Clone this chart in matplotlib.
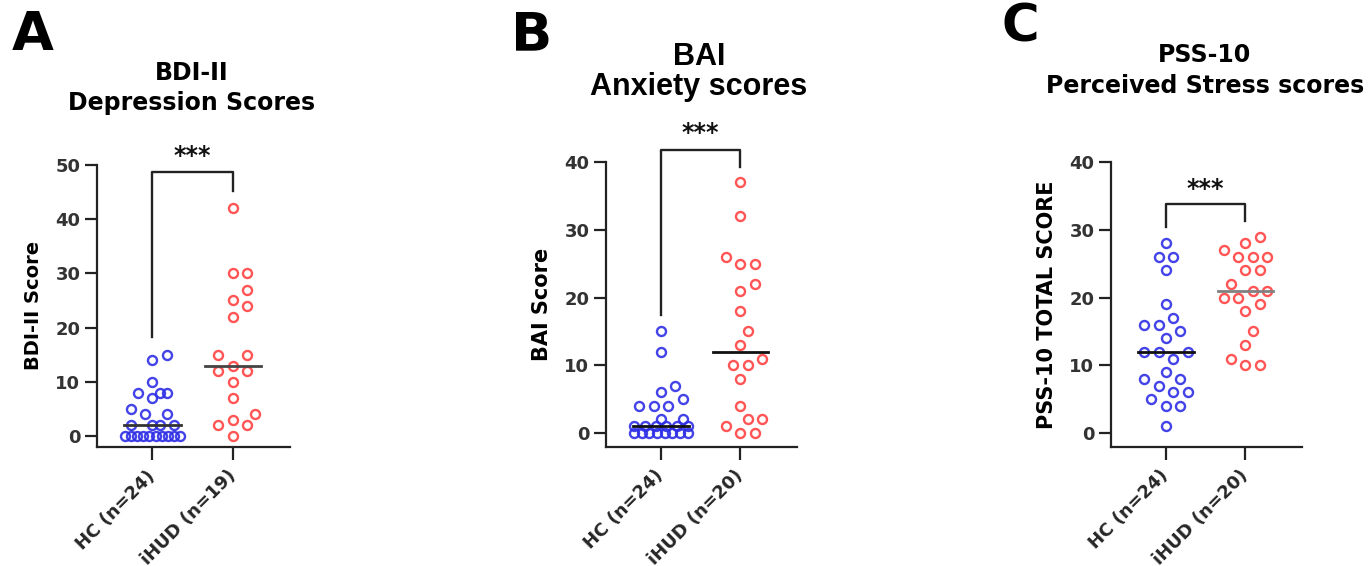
import numpy as np
import matplotlib
matplotlib.use("Agg")
import matplotlib.pyplot as plt

plt.rcParams['font.family'] = ['DejaVu Sans']
plt.rcParams['font.weight'] = 'bold'

# ---------------- data ----------------
groups_A = ["HC (n=24)", "iHUD (n=19)"]
bdi_hc = [0, 0, 0, 0, 0, 0, 0, 0, 0, 0, 2, 2, 2, 2, 4, 4, 5, 7, 8, 8, 8, 10, 14, 15]
bdi_ihud = [42, 30, 30, 27, 25, 24, 22, 15, 15, 13, 12, 12, 10, 7, 4, 3, 2, 2, 0]

groups_B = ["HC (n=24)", "iHUD (n=20)"]
bai_hc = [0, 0, 0, 0, 0, 0, 0, 0, 1, 1, 1, 1, 1, 1, 2, 2, 4, 4, 4, 5, 6, 7, 12, 15]
bai_ihud = [37, 32, 26, 25, 25, 22, 21, 18, 15, 13, 11, 10, 10, 8, 4, 2, 2, 1, 0, 0]

groups_C = ["HC (n=24)", "iHUD (n=20)"]
pss_hc = [28, 26, 26, 24, 19, 17, 16, 16, 15, 14, 12, 12, 12, 11, 9, 8, 8, 7, 6, 6, 5, 4, 4, 1]
pss_ihud = [29, 28, 27, 26, 26, 26, 24, 24, 22, 21, 21, 20, 20, 19, 18, 15, 13, 11, 10, 10]

y_ticks_A = [0, 10, 20, 30, 40, 50]
y_ticks_BC = [0, 10, 20, 30, 40]

BLUE = '#2e2ee6'
RED = '#ff4242'
DARK = '#222222'

W, H = 1368, 566
fig = plt.figure(figsize=(W / 100, H / 100), dpi=100)


def px_axes(left, top, right, bottom):
    return fig.add_axes([left / W, 1 - bottom / H, (right - left) / W, (bottom - top) / H])


def swarm(vals, ppu_y, ppu_x, D=14.5, K=3, Wd=27):
    vals = np.asarray(vals, float)
    offs = np.zeros(len(vals))
    placed = []
    dense = set()
    uniq, counts = np.unique(vals, return_counts=True)
    for u, c in zip(uniq, counts):
        if c > 1 and (c - 1) * D > 2 * K * D / 2:
            idx = np.where(vals == u)[0]
            xs = np.linspace(-Wd, Wd, c)
            for i, x in zip(idx, xs):
                offs[i] = x
                placed.append((x, u * ppu_y))
                dense.add(i)
    cands = [0.0]
    for k in range(1, K + 1):
        cands += [k * D / 2, -k * D / 2]
    for i in np.argsort(vals, kind='stable'):
        if i in dense:
            continue
        y = vals[i] * ppu_y
        best, bestd = None, -1
        for c in cands:
            d = min([np.hypot(c - px, y - py) for px, py in placed], default=1e9)
            if d >= D:
                best = c
                break
            if d > bestd:
                bestd, best = d, c
        offs[i] = best
        placed.append((best, y))
    return offs / ppu_x


def panel(ax, hc, ihud, labels, ylim, yticks, ylabel, ylab_size, ppu_y,
          med_colors, bracket, stars_y):
    ppu_x = 80.0
    for pos, vals, col in [(0, hc, BLUE), (1, ihud, RED)]:
        offs = swarm(vals, ppu_y, ppu_x)
        ax.plot(pos + offs, vals, 'o', ms=6.5, mfc='none', mec=col, mew=1.7,
                alpha=0.9, clip_on=False, zorder=3)
    for pos, vals, mc in [(0, hc, med_colors[0]), (1, ihud, med_colors[1])]:
        m = np.median(vals)
        ax.plot([pos - 0.35, pos + 0.35], [m, m], color=mc, lw=2.0, zorder=4,
                clip_on=False)
    top, l_bot, r_bot = bracket
    ax.plot([0, 0, 1, 1], [l_bot, top, top, r_bot], color=DARK, lw=1.7,
            clip_on=False, zorder=2)
    ax.text(0.5, stars_y, '***', ha='center', va='baseline', fontsize=17,
            fontweight='bold', color='#111111', clip_on=False)
    ax.set_xlim(-0.69, 1.71)
    ax.set_ylim(*ylim)
    ax.set_yticks(yticks)
    ax.set_xticks([0, 1])
    ax.set_xticklabels(labels, rotation=45, ha='right', va='center',
                       rotation_mode='anchor', fontsize=13, fontweight='bold',
                       color='#262626')
    ax.tick_params(axis='x', length=9, width=1.6, color=DARK, pad=10)
    ax.tick_params(axis='y', length=9, width=1.6, color=DARK, pad=3,
                   labelsize=13, labelcolor='#333333')
    for t in ax.get_yticklabels():
        t.set_fontweight('bold')
    for s in ['top', 'right']:
        ax.spines[s].set_visible(False)
    for s in ['left', 'bottom']:
        ax.spines[s].set_linewidth(1.6)
        ax.spines[s].set_color(DARK)
    ax.set_ylabel(ylabel, fontsize=ylab_size, fontweight='bold', labelpad=9)
    ax.patch.set_alpha(0)


axA = px_axes(97, 165, 290, 446.8)
panel(axA, bdi_hc, bdi_ihud, groups_A, (-2, 50), y_ticks_A, 'BDI-II Score', 14,
      5.42, ('#333333', '#444444'), (48.7, 18.3, 45.2), 50.4)

axB = px_axes(606, 162, 797, 446.6)
panel(axB, bai_hc, bai_ihud, groups_B, (-2, 40), y_ticks_BC, 'BAI Score', 15,
      6.775, ('#111111', '#111111'), (41.7, 17.4, 39.2), 43.2)

axC = px_axes(1111, 162, 1302, 446.6)
panel(axC, pss_hc, pss_ihud, groups_C, (-2, 40), y_ticks_BC, 'PSS-10 TOTAL SCORE', 15,
      6.775, ('#111111', '#808080'), (33.8, 30.4, 31.3), 35.0)


def ftext(x, y, s, **kw):
    fig.text(x / W, 1 - y / H, s, **kw)


# panel letters
ftext(12, 50, 'A', fontsize=39, fontweight='bold', ha='left', va='baseline')
ftext(511, 50, 'B', fontsize=39, fontweight='bold', ha='left', va='baseline')
ftext(1001, 41, 'C', fontsize=37, fontweight='bold', ha='left', va='baseline')

# titles
ftext(192, 80, 'BDI-II', fontsize=17, fontweight='bold', ha='center', va='baseline')
ftext(192, 110, 'Depression Scores', fontsize=17, fontweight='bold', ha='center', va='baseline')
ftext(699, 65, 'BAI', fontsize=22, fontweight='bold', ha='center', va='baseline',
      family=['Liberation Sans', 'DejaVu Sans'])
ftext(699, 95, 'Anxiety scores', fontsize=22, fontweight='bold', ha='center', va='baseline',
      family=['Liberation Sans', 'DejaVu Sans'])
ftext(1205, 62, 'PSS-10', fontsize=17, fontweight='bold', ha='center', va='baseline')
ftext(1205, 93, 'Perceived Stress scores', fontsize=17, fontweight='bold', ha='center', va='baseline')

fig.savefig('out.png', dpi=100)
